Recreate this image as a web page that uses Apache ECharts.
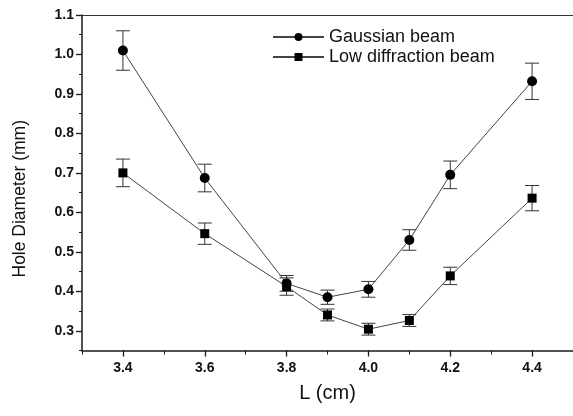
<!DOCTYPE html>
<html>
<head>
<meta charset="utf-8">
<script src="https://cdn.jsdelivr.net/npm/echarts@6/dist/echarts.min.js"></script>
<style>html,body{margin:0;padding:0;background:#fff;}#c{width:573px;height:416px;}</style>
</head>
<body>
<div id="c"></div>
<script>
var lengths = [3.4, 3.6, 3.8, 3.9, 4.0, 4.1, 4.2, 4.4];
var gaussian = [1.01, 0.687, 0.42, 0.385, 0.405, 0.53, 0.695, 0.932];
var gaussianErr = [0.05, 0.035, 0.02, 0.018, 0.02, 0.026, 0.035, 0.046];
var lowDiff = [0.70, 0.546, 0.412, 0.34, 0.304, 0.326, 0.439, 0.636];
var lowDiffErr = [0.035, 0.027, 0.022, 0.015, 0.015, 0.015, 0.022, 0.032];
var xTickLabels = [3.4, 3.6, 3.8, 4.0, 4.2, 4.4];
var yTickLabels = [0.3, 0.4, 0.5, 0.6, 0.7, 0.8, 0.9, 1.0, 1.1];

var chart = echarts.init(document.getElementById('c'), null, {renderer: 'canvas'});
var ink = '#1a1a1a';
var FONT = 'Liberation Sans, Arial, sans-serif';

function pairs(ys) { return lengths.map(function (x, i) { return [x, ys[i]]; }); }
function errData(ys, es) { return lengths.map(function (x, i) { return [x, ys[i], es[i]]; }); }

function renderErr(params, api) {
  var x = api.value(0), y = api.value(1), e = api.value(2);
  var top = api.coord([x, y + e]);
  var bot = api.coord([x, y - e]);
  var hw = 7;
  var st = {stroke: '#333', lineWidth: 1};
  return {
    type: 'group',
    children: [
      {type: 'line', shape: {x1: top[0], y1: top[1], x2: bot[0], y2: bot[1]}, style: st},
      {type: 'line', shape: {x1: top[0] - hw, y1: top[1], x2: top[0] + hw, y2: top[1]}, style: st},
      {type: 'line', shape: {x1: bot[0] - hw, y1: bot[1], x2: bot[0] + hw, y2: bot[1]}, style: st}
    ]
  };
}

var axisLineStyle = {show: true, lineStyle: {color: ink, width: 1.5}};

chart.setOption({
  animation: false,
  backgroundColor: '#fff',
  grid: {left: 82, top: 15, right: -4, bottom: 65.5},
  legend: {
    orient: 'vertical',
    left: 267, top: 23,
    itemWidth: 51, itemHeight: 10, itemGap: 2,
    data: ['Gaussian beam', 'Low diffraction beam'],
    textStyle: {fontFamily: FONT, fontSize: 18, color: '#111'}
  },
  xAxis: [
    {
      type: 'value', min: 3.3, max: 4.5, interval: 0.1, position: 'bottom',
      name: 'L (cm)', nameLocation: 'middle', nameGap: 33,
      nameTextStyle: {fontFamily: FONT, fontSize: 20, color: '#111'},
      axisLine: axisLineStyle,
      axisTick: {show: true, length: 4, inside: false, lineStyle: {color: ink}},
      axisLabel: {show: true, customValues: xTickLabels, margin: 11, fontFamily: FONT, fontSize: 14, fontWeight: 'bold', color: '#111',
        formatter: function (v) { return v.toFixed(1); }},
      splitLine: {show: false}
    },
    {
      type: 'value', min: 3.3, max: 4.5, position: 'bottom',
      axisLine: {show: false},
      axisTick: {show: true, length: 6, customValues: xTickLabels, lineStyle: {color: ink, width: 1.3}},
      axisLabel: {show: false},
      splitLine: {show: false}
    },
    {
      type: 'value', min: 3.3, max: 4.5, position: 'top',
      axisLine: {show: true, lineStyle: {color: '#333', width: 1.2}},
      axisTick: {show: false}, axisLabel: {show: false}, splitLine: {show: false}
    }
  ],
  yAxis: [
    {
      type: 'value', min: 0.25, max: 1.1, interval: 0.05, position: 'left',
      name: 'Hole Diameter (mm)', nameLocation: 'middle', nameGap: 53,
      nameTextStyle: {fontFamily: FONT, fontSize: 17.5, color: '#111', padding: [0, 32, 0, 0]},
      axisLine: axisLineStyle,
      axisTick: {show: true, length: 3, lineStyle: {color: ink}},
      axisLabel: {show: true, customValues: yTickLabels, margin: 8, fontFamily: FONT, fontSize: 14, fontWeight: 'bold', color: '#111',
        formatter: function (v) { return v.toFixed(1); }},
      splitLine: {show: false}
    },
    {
      type: 'value', min: 0.25, max: 1.1, position: 'left',
      axisLine: {show: false},
      axisTick: {show: true, length: 6, customValues: yTickLabels, lineStyle: {color: ink, width: 1.3}},
      axisLabel: {show: false},
      splitLine: {show: false}
    }
  ],
  series: [
    {
      name: 'Gaussian err', type: 'custom', xAxisIndex: 0, yAxisIndex: 0, z: 1,
      renderItem: renderErr, data: errData(gaussian, gaussianErr), silent: true
    },
    {
      name: 'Low err', type: 'custom', xAxisIndex: 0, yAxisIndex: 0, z: 1,
      renderItem: renderErr, data: errData(lowDiff, lowDiffErr), silent: true
    },
    {
      name: 'Gaussian beam', type: 'line', xAxisIndex: 0, yAxisIndex: 0, z: 3,
      data: pairs(gaussian), symbol: 'circle', symbolSize: 10, showAllSymbol: true,
      lineStyle: {color: '#444', width: 1},
      itemStyle: {color: '#000', borderWidth: 0}
    },
    {
      name: 'Low diffraction beam', type: 'line', xAxisIndex: 0, yAxisIndex: 0, z: 3,
      data: pairs(lowDiff), symbol: 'rect', symbolSize: 9, showAllSymbol: true,
      lineStyle: {color: '#444', width: 1},
      itemStyle: {color: '#000', borderWidth: 0}
    }
  ]
});
</script>
</body>
</html>
